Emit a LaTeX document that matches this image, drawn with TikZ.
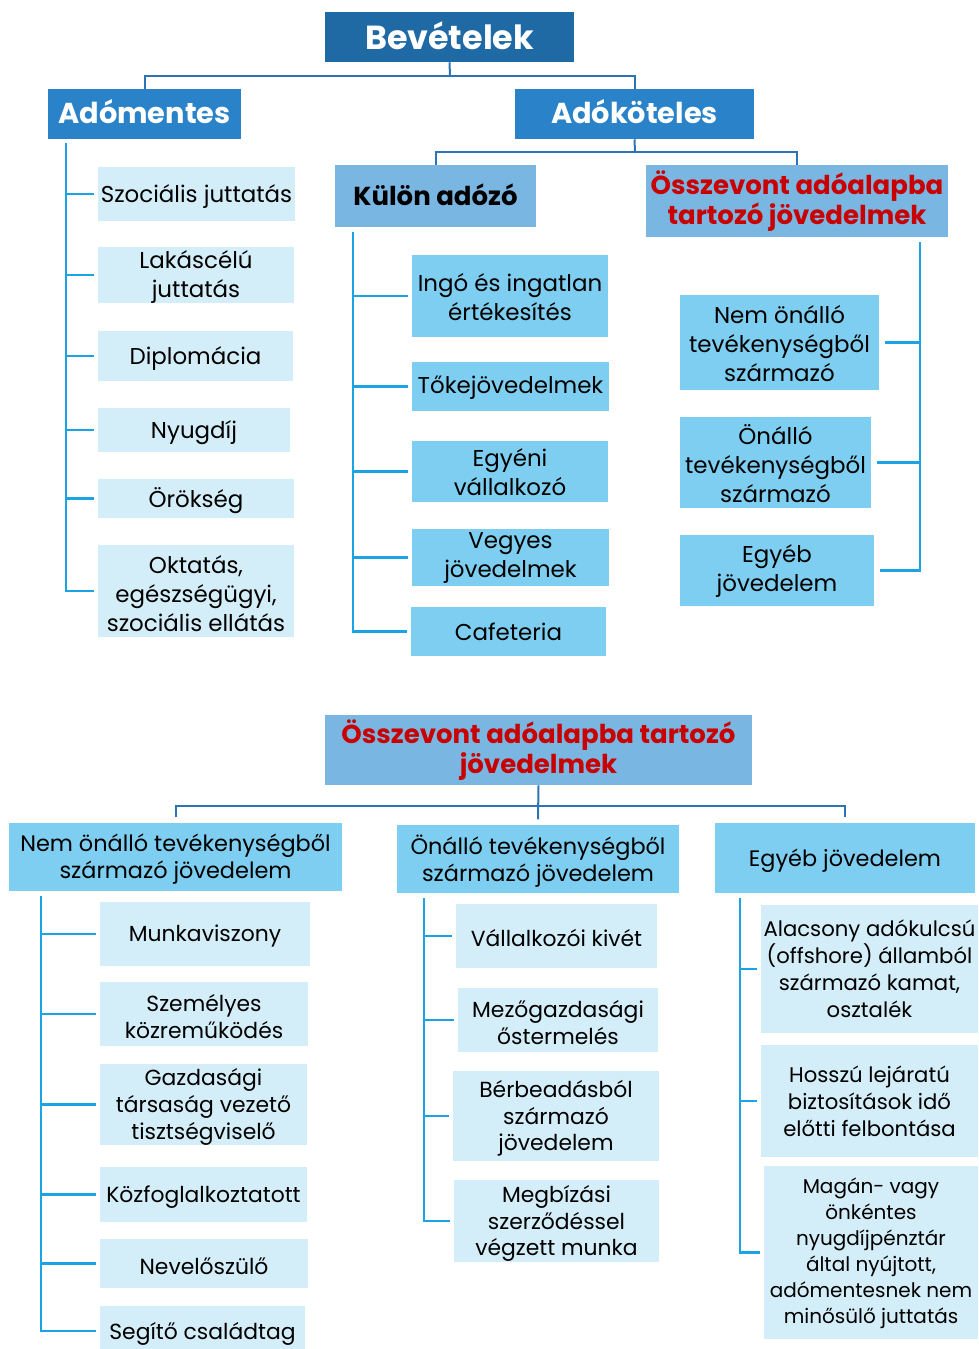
\documentclass[tikz,border=0pt]{standalone}
\usepackage{fontspec}
\setmainfont{Poppins}
\definecolor{cTop}{RGB}{31,106,165}
\definecolor{cLvl1}{RGB}{42,131,201}
\definecolor{cLvl2}{RGB}{122,182,226}
\definecolor{cCyan}{RGB}{125,206,240}
\definecolor{cPale}{RGB}{212,238,249}
\definecolor{cTree}{RGB}{46,116,181}
\definecolor{cList}{RGB}{28,163,227}
\definecolor{cRed}{RGB}{200,0,0}
\newcommand\mybox[7]{%
  \node[#6, minimum width={(#4-#2)*0.75pt}, minimum height={(#5-#3)*0.75pt}] (#1) at ({(#2+#4)/2},{(#3+#5)/2}) {};%
  \node[#6, fill=none, #6 txt] (#1t) at (#1.center) {#7};}
\tikzset{
  base/.style={inner sep=0pt, align=center},
  lvlzero/.style={base, fill=cTop, text=white, font=\bfseries\fontsize{25}{30}\selectfont},
  lvlzero txt/.style={yshift=1pt},
  lvlone/.style={base, fill=cLvl1, text=white, font=\bfseries\fontsize{21.6}{25}\selectfont},
  lvlone txt/.style={yshift=2pt},
  lvltwo/.style={base, fill=cLvl2, text=black, font=\bfseries\fontsize{19.5}{23}\selectfont},
  lvltwo txt/.style={yshift=0.8pt},
  lvltwored/.style={lvltwo, text=cRed},
  lvltwored txt/.style={yshift=0pt},
  cyanbox/.style={base, fill=cCyan, font=\fontsize{17.2}{21.75}\selectfont},
  cyanbox txt/.style={yshift=-0.6pt},
  palebox/.style={base, fill=cPale, font=\fontsize{17.2}{21.75}\selectfont},
  palebox txt/.style={yshift=-1.8pt},
  cyanboxb/.style={base, fill=cCyan, font=\fontsize{16.8}{20.3}\selectfont},
  cyanboxb txt/.style={yshift=-1.8pt},
  paleboxb/.style={base, fill=cPale, font=\fontsize{16.4}{20}\selectfont},
  paleboxb txt/.style={yshift=-1.8pt},
  palec/.style={base, fill=cPale, font=\fontsize{15.9}{20.2}\selectfont},
  palec txt/.style={yshift=0pt},
  paled/.style={base, fill=cPale, font=\fontsize{15}{19.6}\selectfont},
  paled txt/.style={yshift=-0.5pt},
  tree/.style={draw=cTree, line width=1.5pt},
  list/.style={draw=cList, line width=1.6pt},
}
\begin{document}
\begin{tikzpicture}[x=0.75pt,y=-0.75pt]
\useasboundingbox (0,0) rectangle (978,1349);
% ---------- top part ----------
\mybox{bev}{325}{12}{574}{62}{lvlzero}{Bevételek}
\mybox{adm}{48}{89}{241}{139}{lvlone}{Adómentes}
\mybox{adk}{515}{89}{754}{139}{lvlone}{Adóköteles}
\mybox{kul}{335}{165}{536}{227}{lvltwo}{Külön adózó}
\mybox{osz}{646}{165}{948}{237}{lvltwored}{Összevont adóalapba\\tartozó jövedelmek}

\coordinate (ja) at (450,76);
\draw[tree] (bev.south) -- (ja);
\draw[tree] (adm.north) -- (adm.north |- ja) -- (adk.north |- ja) -- (adk.north);
\coordinate (jb) at (635,152);
\draw[tree] (adk.south) -- (jb);
\draw[tree] (kul.north) -- (kul.north |- jb) -- (osz.north |- jb) -- (osz.north);

% Adómentes list
\mybox{szoc}{98}{167}{295}{221}{palebox}{Szociális juttatás}
\mybox{lak}{98}{247}{294}{303}{palebox}{Lakáscélú\\juttatás}
\mybox{dipl}{98}{331}{293}{381}{palebox}{Diplomácia}
\mybox{nyug}{98}{408}{290}{452}{palebox}{Nyugdíj}
\mybox{orok}{98}{479}{294}{518}{palebox}{Örökség}
\mybox{okt}{98}{545}{294}{637}{palebox}{Oktatás,\\egészségügyi,\\szociális ellátás}
\coordinate (ta) at (66,143);
\draw[list] (ta) |- ([xshift=-3pt]okt.west);
\foreach \n in {szoc,lak,dipl,nyug,orok}
  \draw[list] ([xshift=-3pt]\n.west) -- (\n.west -| ta);

% Külön adózó list
\mybox{ingo}{412}{255}{608}{337}{cyanbox}{Ingó és ingatlan\\értékesítés}
\mybox{toke}{412}{362}{609}{411}{cyanbox}{Tőkejövedelmek}
\mybox{egyv}{412}{441}{608}{502}{cyanbox}{Egyéni\\vállalkozó}
\mybox{vegy}{412}{529}{609}{586}{cyanbox}{Vegyes\\jövedelmek}
\mybox{caf}{411}{607}{606}{656}{cyanbox}{Cafeteria}
\coordinate (tb) at (353,232);
\draw[list] (tb) |- ([xshift=-3pt]caf.west);
\foreach \n in {ingo,toke,egyv,vegy}
  \draw[list] ([xshift=-3pt]\n.west) -- (\n.west -| tb);

% Összevont list (right)
\mybox{nemo}{680}{295}{879}{390}{cyanbox}{Nem önálló\\tevékenységből\\származó}
\mybox{onal}{680}{417}{871}{508}{cyanbox}{Önálló\\tevékenységből\\származó}
\mybox{egyj}{680}{535}{874}{606}{cyanbox}{Egyéb\\jövedelem}
\coordinate (tc) at (920,242);
\draw[list] (tc) |- ([xshift=4pt]egyj.east);
\foreach \n in {nemo,onal}
  \draw[list] ([xshift=4pt]\n.east) -- (\n.east -| tc);

% ---------- bottom part ----------
\mybox{osz2}{325}{715}{752}{785}{lvltwored}{Összevont adóalapba tartozó\\jövedelmek}
\mybox{bnem}{9}{823}{342}{891}{cyanboxb}{Nem önálló tevékenységből\\származó jövedelem}
\mybox{bona}{397}{825}{679}{893}{cyanboxb}{Önálló tevékenységből\\származó jövedelem}
\mybox{begy}{715}{823}{975}{893}{cyanboxb}{Egyéb jövedelem}
\coordinate (jc) at (539,806);
\draw[tree] (osz2.south) -- ([yshift=4pt]bona.north);
\draw[tree] ([yshift=4pt]bnem.north) -- (bnem.north |- jc) -- (begy.north |- jc) -- ([yshift=4pt]begy.north);

% Nem önálló list
\mybox{munk}{100}{902}{310}{966}{paleboxb}{Munkaviszony}
\mybox{szem}{100}{982}{308}{1046}{paleboxb}{Személyes\\közreműködés}
\mybox{gazd}{100}{1064}{307}{1145}{paleboxb}{Gazdasági\\társaság vezető\\tisztségviselő}
\mybox{kozf}{100}{1167}{307}{1222}{paleboxb}{Közfoglalkoztatott}
\mybox{neve}{100}{1239}{308}{1288}{paleboxb}{Nevelőszülő}
\mybox{segi}{100}{1306}{305}{1356}{paleboxb}{Segítő családtag}
\coordinate (td) at (41,896);
\draw[list] (td) |- ([xshift=-3pt]segi.west |- 0,1331);
\foreach \n in {munk,szem,gazd,kozf,neve}
  \draw[list] ([xshift=-3pt]\n.west) -- (\n.west -| td);

% Önálló list
\mybox{vall}{456}{904}{657}{968}{paleboxb}{Vállalkozói kivét}
\mybox{mezo}{458}{988}{658}{1052}{paleboxb}{Mezőgazdasági\\őstermelés}
\mybox{berb}{453}{1071}{659}{1161}{paleboxb}{Bérbeadásból\\származó\\jövedelem}
\mybox{megb}{454}{1180}{659}{1262}{paleboxb}{Megbízási\\szerződéssel\\végzett munka}
\coordinate (te) at (424,898);
\draw[list] (te) |- ([xshift=-3pt]megb.west);
\foreach \n in {vall,mezo,berb}
  \draw[list] ([xshift=-3pt]\n.west) -- (\n.west -| te);

% Egyéb list
\mybox{alac}{761}{905}{978}{1033}{palec}{Alacsony adókulcsú\\(offshore) államból\\származó kamat,\\osztalék}
\mybox{hosz}{761}{1045}{978}{1157}{palec}{Hosszú lejáratú\\biztosítások idő\\előtti felbontása}
\mybox{maga}{764}{1166}{978}{1339}{paled}{Magán- vagy\\önkéntes\\nyugdíjpénztár\\által nyújtott,\\adómentesnek nem\\minősülő juttatás}
\coordinate (tf) at (740,898);
\draw[list] (tf) |- ([xshift=-3pt]maga.west);
\foreach \n in {alac,hosz}
  \draw[list] ([xshift=-3pt]\n.west) -- (\n.west -| tf);
\end{tikzpicture}
\end{document}
